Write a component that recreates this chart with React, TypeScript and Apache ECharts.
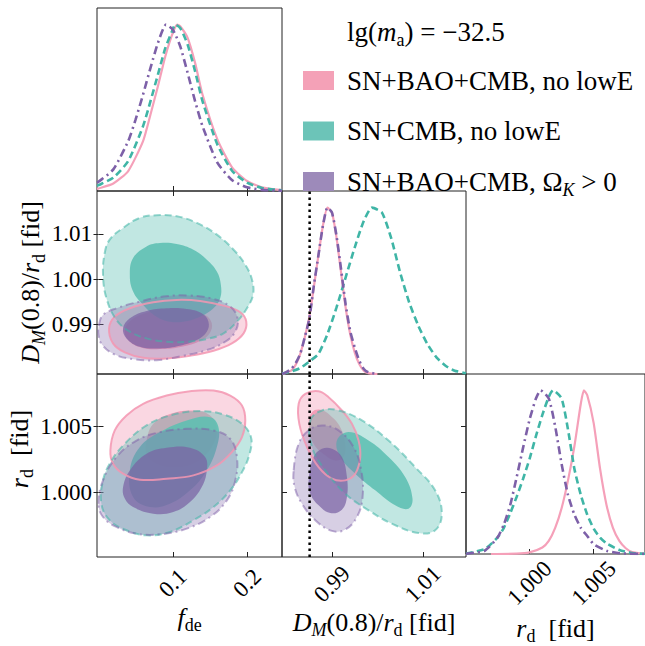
import React, { useEffect, useRef } from 'react';
import * as echarts from 'echarts';

const FONT = "'Liberation Serif', 'Times New Roman', serif";
const N1 = 'SN+BAO+CMB, no lowE';
const N2 = 'SN+CMB, no lowE';
const N3 = 'SN+BAO+CMB, OmegaK>0';

const FDE_RANGE = [-0.002, 0.247];
const DM_RANGE = [0.979, 1.0195];
const RD_RANGE = [0.99505, 1.009];
const DENS_RANGE = [0, 1.1];
const FDE_TICKS = [0.1, 0.2];
const DM_TICKS_X = [0.99, 1.01];
const DM_TICKS_Y = [0.99, 1.0, 1.01];
const RD_TICKS = [1.0, 1.005];
const DM_FID = 0.98508;

// ---------- 1D marginals ----------
const fdePink = [[-0.002,0.013],[0,0.015],[0.02,0.045],[0.04,0.12],[0.06,0.30],[0.07,0.46],[0.08,0.63],[0.09,0.81],[0.10,0.95],[0.106,1.0],[0.11,0.99],[0.12,0.92],[0.13,0.77],[0.14,0.58],[0.16,0.31],[0.18,0.14],[0.20,0.06],[0.22,0.022],[0.247,0.005]];
const fdeTeal = [[-0.002,0.032],[0,0.035],[0.02,0.08],[0.04,0.18],[0.06,0.39],[0.07,0.54],[0.08,0.70],[0.09,0.86],[0.10,0.97],[0.103,1.0],[0.11,0.98],[0.12,0.88],[0.13,0.72],[0.14,0.54],[0.16,0.28],[0.18,0.12],[0.20,0.05],[0.22,0.018],[0.247,0.004]];
const fdePurple = [[-0.002,0.05],[0,0.055],[0.02,0.13],[0.04,0.30],[0.05,0.43],[0.06,0.58],[0.07,0.74],[0.08,0.89],[0.091,1.0],[0.10,0.97],[0.11,0.87],[0.12,0.71],[0.13,0.54],[0.14,0.39],[0.16,0.17],[0.18,0.065],[0.20,0.022],[0.22,0.007],[0.247,0.001]];

const dmPink = [[0.979,0.0],[0.9795,0.003],[0.981,0.02],[0.982,0.055],[0.983,0.12],[0.984,0.22],[0.985,0.34],[0.986,0.52],[0.987,0.71],[0.988,0.89],[0.989,1.0],[0.990,0.97],[0.991,0.82],[0.992,0.61],[0.993,0.40],[0.994,0.24],[0.995,0.13],[0.996,0.06],[0.997,0.02],[0.998,0.005],[1.0,0.0]];
const dmTeal = [[0.979,0.003],[0.981,0.015],[0.983,0.035],[0.985,0.075],[0.987,0.12],[0.989,0.24],[0.991,0.40],[0.993,0.58],[0.995,0.76],[0.997,0.92],[0.9988,1.0],[1.001,0.97],[1.003,0.82],[1.005,0.61],[1.007,0.43],[1.009,0.29],[1.011,0.18],[1.013,0.10],[1.015,0.05],[1.017,0.02],[1.0195,0.005]];
const dmPurple = [[0.979,0.002],[0.9795,0.005],[0.981,0.03],[0.982,0.065],[0.983,0.12],[0.984,0.22],[0.985,0.33],[0.986,0.53],[0.987,0.71],[0.988,0.89],[0.989,1.0],[0.990,0.97],[0.991,0.83],[0.992,0.63],[0.993,0.42],[0.994,0.26],[0.995,0.16],[0.996,0.08],[0.997,0.03],[0.998,0.01],[1.0,0.001]];

const rdPink = [[0.997,0.0],[0.999,0.002],[1.0,0.01],[1.001,0.04],[1.0015,0.08],[1.002,0.16],[1.0025,0.28],[1.003,0.45],[1.0035,0.66],[1.004,0.92],[1.00424,1.0],[1.0045,0.97],[1.005,0.80],[1.0055,0.52],[1.006,0.30],[1.0065,0.16],[1.007,0.08],[1.0075,0.035],[1.008,0.012],[1.009,0.002]];
const rdTeal = [[0.99505,0.003],[0.9965,0.03],[0.9975,0.10],[0.998,0.16],[0.9985,0.25],[0.999,0.35],[0.9995,0.46],[1.0,0.58],[1.0005,0.72],[1.001,0.85],[1.0015,0.96],[1.00183,1.0],[1.0025,0.95],[1.003,0.76],[1.0035,0.52],[1.004,0.36],[1.0045,0.24],[1.005,0.155],[1.0055,0.10],[1.006,0.065],[1.007,0.025],[1.008,0.006],[1.009,0.001]];
const rdPurple = [[0.99505,0.002],[0.9965,0.02],[0.9975,0.10],[0.998,0.18],[0.9985,0.30],[0.999,0.47],[0.9995,0.65],[1.0,0.82],[1.0005,0.95],[1.00086,1.0],[1.0015,0.95],[1.002,0.78],[1.0025,0.55],[1.003,0.36],[1.0035,0.24],[1.004,0.16],[1.0045,0.11],[1.005,0.06],[1.006,0.02],[1.007,0.005],[1.009,0.0]];

// ---------- 2D contours: f_de vs D_M/r_d ----------
const fdeDmPink95 = [[0.0142,0.9891],[0.0219,0.9917],[0.0422,0.99355],[0.0737,0.99488],[0.1052,0.9954],[0.1368,0.99518],[0.1683,0.99414],[0.1908,0.99266],[0.1989,0.99058],[0.1953,0.98799],[0.1795,0.98577],[0.1548,0.98414],[0.1232,0.98303],[0.0917,0.98244],[0.0601,0.98258],[0.0354,0.98377],[0.0196,0.98577]];
const fdeDmPink68 = [[0.0354,0.98873],[0.0444,0.99096],[0.0669,0.99266],[0.094,0.99325],[0.121,0.9931],[0.1435,0.99207],[0.1525,0.99022],[0.1494,0.98799],[0.1345,0.98614],[0.112,0.98503],[0.085,0.98451],[0.0579,0.9848],[0.0399,0.98651]];
const fdeDmTeal95 = [[0.0084,1.00578],[0.0151,1.00873],[0.0331,1.01133],[0.0557,1.01356],[0.0782,1.01413],[0.1053,1.01391],[0.1323,1.01244],[0.1593,1.00984],[0.1818,1.00651],[0.1976,1.00318],[0.2066,0.99984],[0.208,0.99651],[0.1998,0.99356],[0.1863,0.99058],[0.1683,0.988],[0.1458,0.98673],[0.1188,0.98613],[0.0917,0.98613],[0.0647,0.98689],[0.0422,0.98836],[0.0242,0.99096],[0.0107,0.99578],[0.0061,1.00096]];
const fdeDmTeal68 = [[0.0422,1.00096],[0.0466,1.00467],[0.0647,1.00724],[0.0827,1.008],[0.1053,1.00778],[0.1277,1.00651],[0.1458,1.00429],[0.1593,1.00169],[0.1647,0.99873],[0.1638,0.99578],[0.1547,0.99356],[0.1368,0.99169],[0.1142,0.99058],[0.0962,0.99058],[0.0782,0.99169],[0.0601,0.99429],[0.0466,0.99724]];
const fdeDmPurple95 = [[0.0007,0.98984],[0.0061,0.99207],[0.0242,0.99355],[0.0557,0.99503],[0.0872,0.99614],[0.1232,0.99636],[0.1548,0.99562],[0.1773,0.99392],[0.1872,0.99133],[0.1841,0.98836],[0.1705,0.98614],[0.1458,0.98429],[0.1142,0.98303],[0.0782,0.98207],[0.0466,0.98229],[0.0219,0.98332],[0.0052,0.9854],[0.0,0.98762]];
const fdeDmPurple68 = [[0.0331,0.9891],[0.0422,0.99133],[0.0647,0.99296],[0.0917,0.99355],[0.1187,0.9934],[0.139,0.99244],[0.148,0.99058],[0.1458,0.98836],[0.1322,0.98651],[0.1097,0.98525],[0.0827,0.98466],[0.0557,0.98503],[0.0377,0.98688]];

// ---------- 2D contours: f_de vs r_d ----------
const fdeRdPink95 = [[0.016,1.00317],[0.0219,1.0047],[0.0377,1.00584],[0.0601,1.00673],[0.0917,1.00736],[0.1232,1.00769],[0.1548,1.00774],[0.1773,1.00736],[0.1931,1.0066],[0.1976,1.00546],[0.1931,1.00419],[0.1795,1.00305],[0.1593,1.00203],[0.1277,1.00127],[0.0917,1.00102],[0.0557,1.00094],[0.0331,1.0014],[0.0196,1.00216]];
const fdeRdPink68 = [[0.0647,1.00393],[0.0737,1.0052],[0.0962,1.00596],[0.1277,1.00622],[0.1503,1.00584],[0.1593,1.00482],[0.1525,1.00343],[0.1322,1.00229],[0.1052,1.0019],[0.0782,1.00216],[0.0647,1.00292]];
const fdeRdTeal95 = [[0.0061,1.00089],[0.0151,1.00216],[0.0331,1.00355],[0.0647,1.00508],[0.1007,1.00591],[0.1368,1.00617],[0.1683,1.00591],[0.1931,1.0052],[0.2052,1.00419],[0.2034,1.00292],[0.1931,1.00152],[0.1773,1.00013],[0.1548,0.99886],[0.1277,0.99785],[0.0962,0.99696],[0.0647,0.9967],[0.0377,0.99709],[0.0151,0.99785],[0.0039,0.99911]];
const fdeRdTeal68 = [[0.0422,1.00165],[0.0557,1.00343],[0.0827,1.00457],[0.1187,1.00546],[0.1503,1.00571],[0.1615,1.00495],[0.1593,1.00343],[0.1458,1.00165],[0.1232,1.00013],[0.0962,0.99911],[0.0692,0.99886],[0.0466,0.99962]];
const fdeRdPurple95 = [[0.0,0.99911],[0.0061,1.00089],[0.0242,1.00267],[0.0512,1.00393],[0.0827,1.00457],[0.1187,1.00482],[0.1548,1.0047],[0.1773,1.00406],[0.1863,1.00267],[0.1841,1.00089],[0.1728,0.99937],[0.1503,0.9981],[0.1187,0.99721],[0.0827,0.99678],[0.0512,0.99683],[0.0242,0.99734],[0.0061,0.9981]];
const fdeRdPurple68 = [[0.0331,1.00038],[0.0422,1.00165],[0.0647,1.00292],[0.0917,1.00338],[0.1232,1.00338],[0.1435,1.00267],[0.1458,1.00165],[0.139,1.00038],[0.1232,0.99924],[0.1007,0.99848],[0.0737,0.99835],[0.0466,0.99886],[0.0354,0.9995]];

// ---------- 2D contours: D_M/r_d vs r_d ----------
const dmRdPink95 = [[0.98267,1.00673],[0.98413,1.00748],[0.98706,1.00769],[0.98926,1.00723],[0.99219,1.00622],[0.99439,1.0052],[0.99585,1.00393],[0.99622,1.00267],[0.99512,1.0014],[0.99292,1.00089],[0.99,1.00102],[0.98706,1.0019],[0.9845,1.00343],[0.98281,1.0052]];
const dmRdPink68 = [[0.98486,1.0052],[0.9856,1.00609],[0.98743,1.00627],[0.98963,1.00584],[0.99182,1.00495],[0.99292,1.00368],[0.99256,1.00267],[0.99073,1.00241],[0.98853,1.0028],[0.98596,1.00368]];
const dmRdTeal95 = [[0.98523,1.00546],[0.9878,1.00622],[0.99146,1.00622],[0.99659,1.00546],[1.00245,1.00393],[1.00831,1.0019],[1.0127,1.00013],[1.01417,0.99835],[1.0127,0.99709],[1.00904,0.99688],[1.00318,0.99759],[0.99805,0.99861],[0.99292,0.99988],[0.98853,1.00165],[0.9856,1.00343]];
const dmRdTeal68 = [[0.99109,1.00393],[0.99366,1.00457],[0.99805,1.00393],[1.00245,1.00267],[1.00611,1.00114],[1.00772,0.9995],[1.00684,0.99873],[1.00391,0.99899],[0.99952,1.00013],[0.99512,1.0014],[0.99182,1.00267]];
const dmRdPurple95 = [[0.98157,1.00165],[0.98267,1.00368],[0.98486,1.0047],[0.9878,1.00508],[0.99146,1.0047],[0.99475,1.00343],[0.99644,1.00165],[0.99673,0.99962],[0.99549,0.9981],[0.99292,0.99714],[0.99,0.99704],[0.98633,0.99785],[0.9834,0.99911],[0.98179,1.00038]];
const dmRdPurple68 = [[0.98486,1.00089],[0.98596,1.00267],[0.9878,1.0033],[0.99,1.0033],[0.99219,1.00267],[0.99329,1.00114],[0.99329,0.99962],[0.99219,0.99866],[0.98963,0.9984],[0.98706,0.99899],[0.98523,0.99988]];

// ---------- styles ----------
const PINK_LEG = '#f4a1b7';
const TEAL_LEG = '#6cc4b8';
const PURP_LEG = '#9d8aba';
const PINK_LINE = '#f5a0b9';
const TEAL_LINE = '#3fb5a6';
const PURP_LINE = '#7d60a8';
const FILL = {
  pink95: 'rgba(243,156,183,0.40)', pink68: 'rgba(243,148,176,0.85)',
  teal95: 'rgba(100,195,182,0.40)', teal68: 'rgba(92,191,178,0.88)',
  purp95: 'rgba(135,110,172,0.33)', purp68: 'rgba(122,98,164,0.72)',
};
const DASH = [7, 4];
const DASHDOT = [8, 4, 2, 4];

const NAME_SIZE = 26;
const RICH = {
  it: { fontFamily: FONT, fontStyle: 'italic', fontSize: NAME_SIZE, color: '#000' },
  rm: { fontFamily: FONT, fontSize: NAME_SIZE, color: '#000' },
  sub: { fontFamily: FONT, fontSize: 18, color: '#000', padding: [16, 0, 0, 0] },
  subit: { fontFamily: FONT, fontStyle: 'italic', fontSize: 18, color: '#000', padding: [16, 0, 0, 0] },
};
const FDE_NAME = '{it|f}{sub|de}';
const DM_NAME = '{it|D}{subit|M}{rm|(0.8)/}{it|r}{sub|d}{rm| [fid]}';
const RD_NAME = '{it|r}{sub|d}{rm|  [fid]}';

function axis(kind: string, gridIndex: number, range: number[], o: any = {}) {
  const a: any = {
    type: 'value', gridIndex, min: range[0], max: range[1],
    axisLine: { show: false }, splitLine: { show: false },
    axisTick: o.ticks
      ? { show: true, inside: true, length: 5, customValues: o.ticks, lineStyle: { color: '#222', width: 1 } }
      : { show: false },
    axisLabel: { show: false },
  };
  if (o.position) a.position = o.position;
  if (o.labels) {
    a.axisLabel = kind === 'x'
      ? { show: true, customValues: o.ticks, formatter: (v: number) => v.toFixed(o.decimals), rotate: 45, align: 'center', verticalAlign: 'middle', margin: o.margin, fontFamily: FONT, fontSize: 23, color: '#000' }
      : { show: true, customValues: o.ticks, formatter: (v: number) => v.toFixed(o.decimals), margin: 5, fontFamily: FONT, fontSize: 23, color: '#000' };
  }
  if (o.name) {
    a.name = o.name;
    a.nameLocation = 'middle';
    a.nameGap = o.nameGap;
    if (kind === 'y') a.nameRotate = 90;
    a.nameTextStyle = { fontFamily: FONT, fontSize: NAME_SIZE, color: '#000', rich: RICH, padding: o.namePadding || 0 };
  }
  return a;
}

function fillPoly(name: string, xi: number, yi: number, pts: number[][], fill: string, color: string) {
  return {
    type: 'custom', name, xAxisIndex: xi, yAxisIndex: yi, data: pts, silent: true, z: 2,
    encode: { x: 0, y: 1 }, itemStyle: { color },
    renderItem: (params: any, api: any) => {
      if (params.dataIndex !== 0) return null;
      return { type: 'polygon', shape: { points: pts.map((p) => api.coord(p)), smooth: 0.4 }, style: { fill, stroke: 'none' } };
    },
  };
}
function outlinePoly(name: string, xi: number, yi: number, pts: number[][], stroke: string, dash: any, color: string) {
  return {
    type: 'custom', name, xAxisIndex: xi, yAxisIndex: yi, data: pts, silent: true, z: 3,
    encode: { x: 0, y: 1 }, itemStyle: { color },
    renderItem: (params: any, api: any) => {
      if (params.dataIndex !== 0) return null;
      return { type: 'polygon', shape: { points: pts.map((p) => api.coord(p)), smooth: 0.4 }, style: { fill: 'none', stroke, lineWidth: 2, lineDash: dash } };
    },
  };
}
function curve(name: string, xi: number, yi: number, data: number[][], color: string, width: number, type: any, legColor: string) {
  return {
    type: 'line', name, xAxisIndex: xi, yAxisIndex: yi, data, showSymbol: false, symbol: 'none', smooth: 0.2,
    silent: true, z: 4, itemStyle: { color: legColor }, lineStyle: { color, width, type },
  };
}

function buildOption() {
  const W = 184, H = 183;
  const grids = [
    { left: 97, top: 8, width: 185, height: H },
    { left: 97, top: 191, width: 185, height: H },
    { left: 97, top: 374, width: 185, height: H },
    { left: 282, top: 191, width: W, height: H },
    { left: 282, top: 374, width: W, height: H },
    { left: 466, top: 374, width: W, height: H },
  ].map((g) => ({ ...g, show: true, borderColor: '#222', borderWidth: 1, backgroundColor: 'rgba(0,0,0,0)', containLabel: false }));

  const xAxis = [
    axis('x', 0, FDE_RANGE, { ticks: FDE_TICKS }),
    axis('x', 1, FDE_RANGE, { ticks: FDE_TICKS }),
    axis('x', 2, FDE_RANGE, { ticks: FDE_TICKS, labels: true, decimals: 1, margin: 26, name: FDE_NAME, nameGap: 42 }),
    axis('x', 3, DM_RANGE, { ticks: DM_TICKS_X }),
    axis('x', 4, DM_RANGE, { ticks: DM_TICKS_X, labels: true, decimals: 2, margin: 27, name: DM_NAME, nameGap: 47 }),
    axis('x', 5, RD_RANGE, { ticks: RD_TICKS, labels: true, decimals: 3, margin: 29, name: RD_NAME, nameGap: 57 }),
    axis('x', 1, FDE_RANGE, { ticks: FDE_TICKS, position: 'top' }),
    axis('x', 2, FDE_RANGE, { ticks: FDE_TICKS, position: 'top' }),
    axis('x', 4, DM_RANGE, { ticks: DM_TICKS_X, position: 'top' }),
  ];
  const yAxis = [
    axis('y', 0, DENS_RANGE),
    axis('y', 1, DM_RANGE, { ticks: DM_TICKS_Y, labels: true, decimals: 2, name: DM_NAME, nameGap: 46 }),
    axis('y', 2, RD_RANGE, { ticks: RD_TICKS, labels: true, decimals: 3, name: RD_NAME, nameGap: 46, namePadding: [0, 0, 0, 33] }),
    axis('y', 3, DENS_RANGE),
    axis('y', 4, RD_RANGE, { ticks: RD_TICKS }),
    axis('y', 5, DENS_RANGE),
    axis('y', 1, DM_RANGE, { ticks: DM_TICKS_Y, position: 'right' }),
    axis('y', 2, RD_RANGE, { ticks: RD_TICKS, position: 'right' }),
    axis('y', 4, RD_RANGE, { ticks: RD_TICKS, position: 'right' }),
  ];

  const panels = [
    { xi: 1, yi: 1, p: [fdeDmPink95, fdeDmPink68], t: [fdeDmTeal95, fdeDmTeal68], u: [fdeDmPurple95, fdeDmPurple68] },
    { xi: 2, yi: 2, p: [fdeRdPink95, fdeRdPink68], t: [fdeRdTeal95, fdeRdTeal68], u: [fdeRdPurple95, fdeRdPurple68] },
    { xi: 4, yi: 4, p: [dmRdPink95, dmRdPink68], t: [dmRdTeal95, dmRdTeal68], u: [dmRdPurple95, dmRdPurple68] },
  ];
  const series: any[] = [];
  panels.forEach((pn) => {
    series.push(fillPoly(N1, pn.xi, pn.yi, pn.p[0], FILL.pink95, PINK_LEG));
    series.push(fillPoly(N1, pn.xi, pn.yi, pn.p[1], FILL.pink68, PINK_LEG));
    series.push(fillPoly(N2, pn.xi, pn.yi, pn.t[0], FILL.teal95, TEAL_LEG));
    series.push(fillPoly(N2, pn.xi, pn.yi, pn.t[1], FILL.teal68, TEAL_LEG));
    series.push(fillPoly(N3, pn.xi, pn.yi, pn.u[0], FILL.purp95, PURP_LEG));
    series.push(fillPoly(N3, pn.xi, pn.yi, pn.u[1], FILL.purp68, PURP_LEG));
    series.push(outlinePoly(N1, pn.xi, pn.yi, pn.p[0], 'rgba(243,150,178,0.85)', null, PINK_LEG));
    series.push(outlinePoly(N2, pn.xi, pn.yi, pn.t[0], 'rgba(64,181,166,0.55)', DASH, TEAL_LEG));
    series.push(outlinePoly(N3, pn.xi, pn.yi, pn.u[0], 'rgba(125,96,168,0.5)', DASHDOT, PURP_LEG));
  });
  const diag = [
    { xi: 0, yi: 0, d: [fdePink, fdeTeal, fdePurple] },
    { xi: 3, yi: 3, d: [dmPink, dmTeal, dmPurple] },
    { xi: 5, yi: 5, d: [rdPink, rdTeal, rdPurple] },
  ];
  diag.forEach((dg) => {
    series.push(curve(N1, dg.xi, dg.yi, dg.d[0], PINK_LINE, 2.2, 'solid', PINK_LEG));
    series.push(curve(N2, dg.xi, dg.yi, dg.d[1], TEAL_LINE, 2.6, DASH, TEAL_LEG));
    series.push(curve(N3, dg.xi, dg.yi, dg.d[2], PURP_LINE, 2.6, DASHDOT, PURP_LEG));
  });
  series.push({
    type: 'line', name: 'fid', xAxisIndex: 3, yAxisIndex: 3, data: [[DM_FID, DENS_RANGE[0]], [DM_FID, DENS_RANGE[1]]],
    showSymbol: false, symbol: 'none', silent: true, z: 5, lineStyle: { color: '#000', width: 2.5, type: [2.5, 3.5] },
  });
  series.push({
    type: 'line', name: 'fid', xAxisIndex: 4, yAxisIndex: 4, data: [[DM_FID, RD_RANGE[0]], [DM_FID, RD_RANGE[1]]],
    showSymbol: false, symbol: 'none', silent: true, z: 5, lineStyle: { color: '#000', width: 2.5, type: [2.5, 3.5] },
  });

  return {
    animation: false,
    backgroundColor: '#fff',
    title: {
      text: 'lg({it|m}{sub|a}) = \u221232.5', left: 347, top: 15, padding: 0,
      textStyle: {
        fontFamily: FONT, fontSize: 27, fontWeight: 'normal', color: '#000',
        rich: {
          it: { fontFamily: FONT, fontStyle: 'italic', fontSize: 27, color: '#000' },
          sub: { fontFamily: FONT, fontSize: 18, color: '#000', padding: [16, 0, 0, 0] },
        },
      },
    },
    legend: {
      show: true, orient: 'vertical', left: 303, top: 67, padding: 0,
      itemWidth: 31, itemHeight: 19, itemGap: 23.5, icon: 'rect', selectedMode: false,
      data: [
        { name: N1, itemStyle: { color: PINK_LEG, borderWidth: 0 } },
        { name: N2, itemStyle: { color: TEAL_LEG, borderWidth: 0 } },
        { name: N3, itemStyle: { color: PURP_LEG, borderWidth: 0 } },
      ],
      formatter: (n: string) => (n === N3 ? 'SN+BAO+CMB, \u03A9{subit|K} > 0' : n),
      textStyle: {
        fontFamily: FONT, fontSize: 27, color: '#000', padding: [0, 0, 0, 8],
        rich: { subit: { fontFamily: FONT, fontStyle: 'italic', fontSize: 18, color: '#000', padding: [16, 0, 0, 0] } },
      },
    },
    grid: grids,
    xAxis,
    yAxis,
    series,
  };
}

export default function App() {
  const ref = useRef<HTMLDivElement>(null);
  useEffect(() => {
    document.body.style.margin = '0';
    const chart = echarts.init(ref.current as HTMLDivElement, null, { renderer: 'svg' });
    chart.setOption(buildOption() as any);
    return () => chart.dispose();
  }, []);
  return <div ref={ref} style={{ width: 645, height: 646 }} />;
}
